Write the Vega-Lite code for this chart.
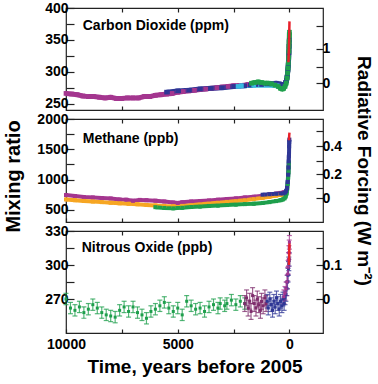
{
  "$schema": "https://vega.github.io/schema/vega-lite/v6.json",
  "padding": {"left": 3, "top": 0, "right": 0, "bottom": 0},
  "spacing": 9,
  "bounds": "flush",
  "config": {
    "font": "Liberation Sans",
    "view": {"stroke": "#222", "strokeWidth": 1.2},
    "axis": {"labelFont": "Liberation Sans", "labelFontSize": 14, "labelFontWeight": "bold", "labelColor": "#000", "tickColor": "#222", "tickWidth": 1.2, "domain": false, "grid": false, "titleFont": "Liberation Sans", "titleFontSize": 19, "titleFontWeight": "bold", "titleColor": "#000", "labelFlush": false, "labelOverlap": false}
  },
  "datasets": {
    "co2": [
      {"s":"purple","t":10000,"v":266,"e":3},{"s":"purple","t":9750,"v":265,"e":3},{"s":"purple","t":9500,"v":264,"e":3},{"s":"purple","t":9250,"v":262,"e":3},{"s":"purple","t":9000,"v":261,"e":3},{"s":"purple","t":8750,"v":261,"e":3},{"s":"purple","t":8500,"v":260,"e":3},{"s":"purple","t":8250,"v":259,"e":3},{"s":"purple","t":8000,"v":260,"e":3},{"s":"purple","t":7750,"v":258,"e":3},{"s":"purple","t":7500,"v":258,"e":3},{"s":"purple","t":7250,"v":259,"e":3},{"s":"purple","t":7000,"v":259,"e":3},{"s":"purple","t":6750,"v":259,"e":3},{"s":"purple","t":6500,"v":261,"e":3},{"s":"purple","t":6250,"v":261,"e":3},{"s":"purple","t":6000,"v":263,"e":3},{"s":"purple","t":5750,"v":264,"e":3},{"s":"purple","t":5500,"v":265,"e":3},{"s":"purple","t":5250,"v":266,"e":3},{"s":"purple","t":5000,"v":268,"e":3},{"s":"purple","t":4750,"v":269,"e":3},{"s":"purple","t":4500,"v":270,"e":3},{"s":"purple","t":4250,"v":271,"e":3},{"s":"purple","t":4000,"v":272,"e":3},{"s":"purple","t":3750,"v":273,"e":3},{"s":"purple","t":3500,"v":274,"e":3},{"s":"purple","t":3250,"v":275,"e":3},{"s":"purple","t":3000,"v":276,"e":3},{"s":"purple","t":2750,"v":277,"e":3},{"s":"purple","t":2500,"v":278,"e":3},{"s":"purple","t":2250,"v":278,"e":3},{"s":"purple","t":2000,"v":279,"e":3},{"s":"purple","t":1850,"v":280,"e":3},
      {"s":"blue","t":5500,"v":268,"e":2},{"s":"blue","t":5000,"v":270,"e":2},{"s":"blue","t":4500,"v":271,"e":2},{"s":"blue","t":4000,"v":273,"e":2},{"s":"blue","t":3500,"v":274,"e":2},{"s":"blue","t":3000,"v":275,"e":2},{"s":"blue","t":2500,"v":277,"e":2},{"s":"blue","t":2000,"v":278,"e":2},{"s":"blue","t":1750,"v":279,"e":2},{"s":"blue","t":1500,"v":280,"e":2},{"s":"blue","t":1250,"v":280,"e":2},{"s":"blue","t":1000,"v":281,"e":2},{"s":"blue","t":800,"v":281,"e":2},{"s":"blue","t":600,"v":282,"e":2},{"s":"blue","t":450,"v":281,"e":2},{"s":"blue","t":350,"v":280,"e":2},{"s":"blue","t":280,"v":279,"e":2},{"s":"blue","t":230,"v":280,"e":2},{"s":"blue","t":180,"v":283,"e":2},{"s":"blue","t":140,"v":286,"e":2},{"s":"blue","t":110,"v":291,"e":2},{"s":"blue","t":90,"v":296,"e":2},{"s":"blue","t":70,"v":303,"e":2},{"s":"blue","t":55,"v":310,"e":2},{"s":"blue","t":45,"v":316,"e":2},{"s":"blue","t":35,"v":322,"e":2},{"s":"blue","t":25,"v":330,"e":2},{"s":"blue","t":15,"v":340,"e":2},{"s":"blue","t":8,"v":350,"e":2},
      {"s":"cyan","t":2300,"v":277,"e":2},{"s":"cyan","t":2150,"v":278,"e":2},{"s":"cyan","t":1600,"v":279,"e":2},{"s":"cyan","t":700,"v":279,"e":2},{"s":"cyan","t":550,"v":278,"e":2},
      {"s":"green","t":1700,"v":282,"e":3},{"s":"green","t":1550,"v":283,"e":3},{"s":"green","t":1400,"v":284,"e":3},{"s":"green","t":1250,"v":283,"e":3},{"s":"green","t":1100,"v":282,"e":3},{"s":"green","t":950,"v":282,"e":3},{"s":"green","t":800,"v":281,"e":3},{"s":"green","t":650,"v":279,"e":3},{"s":"green","t":500,"v":277,"e":3},{"s":"green","t":400,"v":274,"e":3},{"s":"green","t":320,"v":273,"e":3},{"s":"green","t":260,"v":274,"e":3},{"s":"green","t":200,"v":277,"e":3},{"s":"green","t":150,"v":282,"e":3},{"s":"green","t":110,"v":290,"e":4},{"s":"green","t":85,"v":298,"e":4},{"s":"green","t":65,"v":306,"e":4},{"s":"green","t":50,"v":314,"e":4},{"s":"green","t":38,"v":322,"e":4},{"s":"green","t":28,"v":332,"e":4},{"s":"green","t":20,"v":340,"e":4},{"s":"green","t":12,"v":348,"e":4},{"s":"green","t":6,"v":356,"e":4},{"s":"green","t":2,"v":362,"e":4},
      {"s":"red","t":47,"v":315,"e":0},{"s":"red","t":40,"v":320,"e":0},{"s":"red","t":30,"v":331,"e":0},{"s":"red","t":20,"v":346,"e":0},{"s":"red","t":10,"v":361,"e":0},{"s":"red","t":0,"v":379,"e":0}
    ],
    "ch4": [
      {"s":"purple","t":10000,"v":745,"e":25},{"s":"purple","t":9600,"v":728,"e":25},{"s":"purple","t":9200,"v":712,"e":25},{"s":"purple","t":8800,"v":705,"e":25},{"s":"purple","t":8400,"v":695,"e":25},{"s":"purple","t":8000,"v":688,"e":25},{"s":"purple","t":7600,"v":672,"e":25},{"s":"purple","t":7300,"v":668,"e":25},{"s":"purple","t":7000,"v":650,"e":25},{"s":"purple","t":6700,"v":665,"e":25},{"s":"purple","t":6400,"v":660,"e":25},{"s":"purple","t":6000,"v":652,"e":25},{"s":"purple","t":5600,"v":638,"e":25},{"s":"purple","t":5200,"v":622,"e":25},{"s":"purple","t":5000,"v":615,"e":25},{"s":"purple","t":4800,"v":625,"e":25},{"s":"purple","t":4400,"v":638,"e":25},{"s":"purple","t":4000,"v":645,"e":25},{"s":"purple","t":3600,"v":655,"e":25},{"s":"purple","t":3200,"v":668,"e":25},{"s":"purple","t":2800,"v":678,"e":25},{"s":"purple","t":2400,"v":690,"e":25},{"s":"purple","t":2000,"v":705,"e":25},{"s":"purple","t":1600,"v":718,"e":25},{"s":"purple","t":1200,"v":735,"e":25},{"s":"purple","t":900,"v":752,"e":25},{"s":"purple","t":600,"v":768,"e":25},{"s":"purple","t":400,"v":780,"e":25},{"s":"purple","t":250,"v":790,"e":25},
      {"s":"orange","t":10000,"v":672,"e":25},{"s":"orange","t":9600,"v":660,"e":25},{"s":"orange","t":9200,"v":648,"e":25},{"s":"orange","t":8800,"v":638,"e":25},{"s":"orange","t":8400,"v":628,"e":25},{"s":"orange","t":8000,"v":618,"e":25},{"s":"orange","t":7600,"v":608,"e":25},{"s":"orange","t":7200,"v":600,"e":25},{"s":"orange","t":6800,"v":592,"e":25},{"s":"orange","t":6400,"v":582,"e":25},{"s":"orange","t":6000,"v":574,"e":25},{"s":"orange","t":5600,"v":566,"e":25},{"s":"orange","t":5200,"v":562,"e":25},{"s":"orange","t":4800,"v":566,"e":25},{"s":"orange","t":4400,"v":578,"e":25},{"s":"orange","t":4000,"v":592,"e":25},{"s":"orange","t":3600,"v":605,"e":25},{"s":"orange","t":3200,"v":618,"e":25},{"s":"orange","t":2800,"v":632,"e":25},{"s":"orange","t":2400,"v":645,"e":25},{"s":"orange","t":2000,"v":660,"e":25},{"s":"orange","t":1600,"v":678,"e":25},{"s":"orange","t":1200,"v":698,"e":25},{"s":"orange","t":900,"v":715,"e":25},{"s":"orange","t":600,"v":735,"e":25},{"s":"orange","t":400,"v":748,"e":25},{"s":"orange","t":300,"v":752,"e":25},
      {"s":"green","t":6000,"v":545,"e":30},{"s":"green","t":5600,"v":532,"e":30},{"s":"green","t":5200,"v":526,"e":30},{"s":"green","t":4800,"v":535,"e":30},{"s":"green","t":4400,"v":548,"e":30},{"s":"green","t":4000,"v":556,"e":30},{"s":"green","t":3600,"v":565,"e":30},{"s":"green","t":3200,"v":572,"e":30},{"s":"green","t":2800,"v":580,"e":30},{"s":"green","t":2400,"v":588,"e":30},{"s":"green","t":2000,"v":595,"e":30},{"s":"green","t":1600,"v":602,"e":30},{"s":"green","t":1200,"v":615,"e":30},{"s":"green","t":900,"v":628,"e":30},{"s":"green","t":600,"v":645,"e":30},{"s":"green","t":400,"v":660,"e":30},{"s":"green","t":300,"v":672,"e":30},{"s":"green","t":220,"v":690,"e":30},{"s":"green","t":170,"v":720,"e":30},{"s":"green","t":130,"v":770,"e":30},{"s":"green","t":100,"v":850,"e":30},{"s":"green","t":80,"v":930,"e":30},{"s":"green","t":60,"v":1030,"e":30},{"s":"green","t":45,"v":1120,"e":30},{"s":"green","t":35,"v":1200,"e":30},{"s":"green","t":25,"v":1280,"e":30},
      {"s":"blue","t":1200,"v":750,"e":20},{"s":"blue","t":900,"v":758,"e":20},{"s":"blue","t":600,"v":765,"e":20},{"s":"blue","t":400,"v":770,"e":20},{"s":"blue","t":280,"v":772,"e":20},{"s":"blue","t":200,"v":785,"e":20},{"s":"blue","t":150,"v":810,"e":20},{"s":"blue","t":110,"v":860,"e":20},{"s":"blue","t":80,"v":960,"e":20},{"s":"blue","t":60,"v":1080,"e":20},{"s":"blue","t":45,"v":1200,"e":20},{"s":"blue","t":35,"v":1300,"e":20},{"s":"blue","t":28,"v":1380,"e":20},{"s":"blue","t":20,"v":1420,"e":20},{"s":"blue","t":15,"v":1550,"e":20},{"s":"blue","t":10,"v":1620,"e":20},{"s":"blue","t":6,"v":1660,"e":20},
      {"s":"red","t":21,"v":1650,"e":0},{"s":"red","t":15,"v":1700,"e":0},{"s":"red","t":10,"v":1740,"e":0},{"s":"red","t":5,"v":1755,"e":0},{"s":"red","t":0,"v":1775,"e":0}
    ],
    "n2o": [
      {"s":"green","t":10000,"v":270,"e":5},{"s":"green","t":9800,"v":262,"e":5},{"s":"green","t":9600,"v":260,"e":5},{"s":"green","t":9400,"v":263,"e":5},{"s":"green","t":9200,"v":258,"e":5},{"s":"green","t":9000,"v":261,"e":5},{"s":"green","t":8800,"v":265,"e":5},{"s":"green","t":8600,"v":262,"e":5},{"s":"green","t":8400,"v":258,"e":5},{"s":"green","t":8200,"v":256,"e":5},{"s":"green","t":8000,"v":255,"e":5},{"s":"green","t":7800,"v":254,"e":5},{"s":"green","t":7600,"v":260,"e":5},{"s":"green","t":7400,"v":263,"e":5},{"s":"green","t":7200,"v":259,"e":5},{"s":"green","t":7000,"v":263,"e":5},{"s":"green","t":6800,"v":258,"e":5},{"s":"green","t":6600,"v":256,"e":5},{"s":"green","t":6400,"v":253,"e":5},{"s":"green","t":6200,"v":259,"e":5},{"s":"green","t":6000,"v":261,"e":5},{"s":"green","t":5800,"v":264,"e":5},{"s":"green","t":5600,"v":267,"e":5},{"s":"green","t":5400,"v":262,"e":5},{"s":"green","t":5200,"v":259,"e":5},{"s":"green","t":5000,"v":262,"e":5},{"s":"green","t":4800,"v":256,"e":5},{"s":"green","t":4600,"v":268,"e":5},{"s":"green","t":4400,"v":264,"e":5},{"s":"green","t":4200,"v":261,"e":5},{"s":"green","t":4000,"v":262,"e":5},{"s":"green","t":3800,"v":259,"e":5},{"s":"green","t":3600,"v":263,"e":5},{"s":"green","t":3400,"v":265,"e":5},{"s":"green","t":3200,"v":262,"e":5},{"s":"green","t":3100,"v":266,"e":5},{"s":"green","t":2900,"v":264,"e":5},{"s":"green","t":2800,"v":266,"e":5},{"s":"green","t":2600,"v":269,"e":5},{"s":"green","t":2400,"v":265,"e":5},{"s":"green","t":2200,"v":268,"e":5},{"s":"green","t":2000,"v":266,"e":5},
      {"s":"plum","t":2000,"v":266,"e":7},{"s":"plum","t":1920,"v":271,"e":7},{"s":"plum","t":1850,"v":262,"e":7},{"s":"plum","t":1780,"v":268,"e":7},{"s":"plum","t":1720,"v":259,"e":7},{"s":"plum","t":1650,"v":273,"e":7},{"s":"plum","t":1580,"v":266,"e":7},{"s":"plum","t":1500,"v":262,"e":7},{"s":"plum","t":1440,"v":270,"e":7},{"s":"plum","t":1380,"v":265,"e":7},{"s":"plum","t":1300,"v":260,"e":7},{"s":"plum","t":1250,"v":268,"e":7},{"s":"plum","t":1180,"v":264,"e":7},{"s":"plum","t":1100,"v":271,"e":7},{"s":"plum","t":1050,"v":266,"e":7},
      {"s":"blue","t":1000,"v":268,"e":6},{"s":"blue","t":950,"v":262,"e":6},{"s":"blue","t":880,"v":270,"e":6},{"s":"blue","t":820,"v":265,"e":6},{"s":"blue","t":760,"v":260,"e":6},{"s":"blue","t":700,"v":268,"e":6},{"s":"blue","t":640,"v":263,"e":6},{"s":"blue","t":580,"v":271,"e":6},{"s":"blue","t":520,"v":266,"e":6},{"s":"blue","t":460,"v":261,"e":6},{"s":"blue","t":400,"v":268,"e":6},{"s":"blue","t":340,"v":264,"e":6},{"s":"blue","t":290,"v":270,"e":6},{"s":"blue","t":240,"v":266,"e":6},{"s":"blue","t":200,"v":271,"e":6},{"s":"blue","t":160,"v":274,"e":6},{"s":"blue","t":120,"v":279,"e":6},{"s":"blue","t":90,"v":285,"e":6},{"s":"blue","t":65,"v":291,"e":6},{"s":"blue","t":45,"v":297,"e":6},{"s":"blue","t":30,"v":301,"e":6},{"s":"blue","t":15,"v":305,"e":6},
      {"s":"purple","t":250,"v":272,"e":6},{"s":"purple","t":200,"v":275,"e":6},{"s":"purple","t":150,"v":279,"e":6},{"s":"purple","t":110,"v":285,"e":6},{"s":"purple","t":80,"v":292,"e":6},{"s":"purple","t":60,"v":298,"e":6},{"s":"purple","t":40,"v":305,"e":6},{"s":"purple","t":25,"v":311,"e":6},{"s":"purple","t":12,"v":316,"e":6},{"s":"purple","t":4,"v":320,"e":6},
      {"s":"red","t":27,"v":300,"e":0},{"s":"red","t":20,"v":304,"e":0},{"s":"red","t":10,"v":311,"e":0},{"s":"red","t":0,"v":319,"e":0}
    ]
  },
  "vconcat": [
    {
      "width": 257, "height": 102,
      "data": {"name": "co2"},
      "layer": [
        {"transform": [{"filter": "datum.s !== 'red'"}],
         "mark": {"type": "line", "strokeWidth": 5},
         "encoding": {"x": {"field": "t", "type": "quantitative", "scale": {"domain": [-1500, 10000], "reverse": true, "nice": false, "zero": false}, "axis": null},
           "y": {"field": "v", "type": "quantitative", "scale": {"domain": [240, 400], "nice": false, "zero": false}, "axis": null},
           "color": {"field": "s", "type": "nominal", "scale": {"domain": ["purple","blue","green","cyan","orange","red","plum"], "range": ["#a4368f","#2e3695","#1e9f4c","#38b9e0","#f6a623","#e8202a","#7e2c6c"]}, "legend": null}}},
        {"transform": [{"filter": "datum.s !== 'red'"}],
         "mark": {"type": "errorbar", "ticks": false, "thickness": 2},
         "encoding": {"x": {"field": "t", "type": "quantitative", "scale": {"domain": [-1500, 10000], "reverse": true, "nice": false, "zero": false}, "axis": null},
           "y": {"field": "v", "type": "quantitative", "scale": {"domain": [240, 400], "nice": false, "zero": false}, "axis": null},
           "yError": {"field": "e"},
           "color": {"field": "s", "type": "nominal", "legend": null}}},
        {"transform": [{"filter": "datum.s !== 'red'"}],
         "mark": {"type": "square", "size": 22, "opacity": 1},
         "encoding": {"x": {"field": "t", "type": "quantitative", "scale": {"domain": [-1500, 10000], "reverse": true, "nice": false, "zero": false}, "axis": null},
           "y": {"field": "v", "type": "quantitative", "scale": {"domain": [240, 400], "nice": false, "zero": false}, "axis": null},
           "color": {"field": "s", "type": "nominal", "legend": null}}},
        {"transform": [{"filter": "datum.s === 'red'"}],
         "mark": {"type": "line", "color": "#e8202a", "strokeWidth": 2.5},
         "encoding": {"x": {"field": "t", "type": "quantitative", "scale": {"domain": [-1500, 10000], "reverse": true, "nice": false, "zero": false}, "axis": null},
           "y": {"field": "v", "type": "quantitative", "scale": {"domain": [240, 400], "nice": false, "zero": false}, "axis": null}}},
        {"data": {"values": [{"label": "Carbon Dioxide (ppm)"}]},
         "mark": {"type": "text", "align": "left", "baseline": "middle", "fontSize": 14, "fontWeight": "bold", "font": "Liberation Sans", "color": "#000"},
         "encoding": {"x": {"datum": 9250, "type": "quantitative", "scale": {"domain": [-1500, 10000], "reverse": true, "nice": false, "zero": false}, "axis": null},
           "y": {"datum": 372, "type": "quantitative", "scale": {"domain": [240, 400], "nice": false, "zero": false}, "axis": null},
           "text": {"field": "label"}}},
        {"data": {"values": [{}]},
         "mark": {"type": "point", "opacity": 0},
         "encoding": {"x": {"datum": 0, "type": "quantitative", "scale": {"domain": [-1500, 10000], "reverse": true, "nice": false, "zero": false}, "axis": {"orient": "bottom", "values": [0, 2500, 5000, 7500, 10000], "labels": false, "tickSize": -4, "title": null}},
           "y": {"datum": 300, "type": "quantitative", "scale": {"domain": [240, 400], "nice": false, "zero": false}, "axis": {"orient": "left", "values": [250, 275, 300, 325, 350, 375, 400], "labelExpr": "datum.value % 50 === 0 ? datum.label : ''", "tickSize": -8, "labelPadding": 6, "title": null}}}},
        {"data": {"values": [{}]},
         "mark": {"type": "point", "opacity": 0},
         "encoding": {"x": {"datum": 0, "type": "quantitative", "scale": {"domain": [-1500, 10000], "reverse": true, "nice": false, "zero": false}, "axis": {"orient": "top", "values": [0, 2500, 5000, 7500, 10000], "labels": false, "tickSize": -4, "title": null}},
           "y": {"datum": 300, "type": "quantitative", "scale": {"domain": [240, 400], "nice": false, "zero": false}, "axis": {"orient": "right", "values": [282, 308, 336, 371], "labelExpr": "datum.value === 282 ? '0' : datum.value === 336 ? '1' : ''", "tickSize": -7, "labelPadding": 6, "title": null}}}}
      ],
      "resolve": {"axis": {"x": "independent", "y": "independent"}}
    },
    {
      "width": 257, "height": 103,
      "data": {"name": "ch4"},
      "layer": [
        {"transform": [{"filter": "datum.s !== 'red'"}],
         "mark": {"type": "line", "strokeWidth": 4},
         "encoding": {"x": {"field": "t", "type": "quantitative", "scale": {"domain": [-1500, 10000], "reverse": true, "nice": false, "zero": false}, "axis": null},
           "y": {"field": "v", "type": "quantitative", "scale": {"domain": [300, 2000], "nice": false, "zero": false}, "axis": null},
           "color": {"field": "s", "type": "nominal", "legend": null}}},
        {"transform": [{"filter": "datum.s !== 'red'"}],
         "mark": {"type": "errorbar", "ticks": false, "thickness": 2},
         "encoding": {"x": {"field": "t", "type": "quantitative", "scale": {"domain": [-1500, 10000], "reverse": true, "nice": false, "zero": false}, "axis": null},
           "y": {"field": "v", "type": "quantitative", "scale": {"domain": [300, 2000], "nice": false, "zero": false}, "axis": null},
           "yError": {"field": "e"},
           "color": {"field": "s", "type": "nominal", "legend": null}}},
        {"transform": [{"filter": "datum.s !== 'red'"}],
         "mark": {"type": "square", "size": 16, "opacity": 1},
         "encoding": {"x": {"field": "t", "type": "quantitative", "scale": {"domain": [-1500, 10000], "reverse": true, "nice": false, "zero": false}, "axis": null},
           "y": {"field": "v", "type": "quantitative", "scale": {"domain": [300, 2000], "nice": false, "zero": false}, "axis": null},
           "color": {"field": "s", "type": "nominal", "legend": null}}},
        {"transform": [{"filter": "datum.s === 'red'"}],
         "mark": {"type": "line", "color": "#e8202a", "strokeWidth": 2.5},
         "encoding": {"x": {"field": "t", "type": "quantitative", "scale": {"domain": [-1500, 10000], "reverse": true, "nice": false, "zero": false}, "axis": null},
           "y": {"field": "v", "type": "quantitative", "scale": {"domain": [300, 2000], "nice": false, "zero": false}, "axis": null}}},
        {"data": {"values": [{"label": "Methane (ppb)"}]},
         "mark": {"type": "text", "align": "left", "baseline": "middle", "fontSize": 14, "fontWeight": "bold", "font": "Liberation Sans", "color": "#000"},
         "encoding": {"x": {"datum": 9250, "type": "quantitative", "scale": {"domain": [-1500, 10000], "reverse": true, "nice": false, "zero": false}, "axis": null},
           "y": {"datum": 1675, "type": "quantitative", "scale": {"domain": [300, 2000], "nice": false, "zero": false}, "axis": null},
           "text": {"field": "label"}}},
        {"data": {"values": [{}]},
         "mark": {"type": "point", "opacity": 0},
         "encoding": {"x": {"datum": 0, "type": "quantitative", "scale": {"domain": [-1500, 10000], "reverse": true, "nice": false, "zero": false}, "axis": {"orient": "bottom", "values": [0, 2500, 5000, 7500, 10000], "labels": false, "tickSize": -4, "title": null}},
           "y": {"datum": 1000, "type": "quantitative", "scale": {"domain": [300, 2000], "nice": false, "zero": false}, "axis": {"orient": "left", "values": [500, 750, 1000, 1250, 1500, 1750, 2000], "labelExpr": "datum.value % 500 === 0 ? datum.value : ''", "tickSize": -8, "labelPadding": 6, "title": "Mixing ratio", "titleFontSize": 20, "titlePadding": 13, "titleY": 57}}}},
        {"data": {"values": [{}]},
         "mark": {"type": "point", "opacity": 0},
         "encoding": {"x": {"datum": 0, "type": "quantitative", "scale": {"domain": [-1500, 10000], "reverse": true, "nice": false, "zero": false}, "axis": {"orient": "top", "values": [0, 2500, 5000, 7500, 10000], "labels": false, "tickSize": -4, "title": null}},
           "y": {"datum": 1000, "type": "quantitative", "scale": {"domain": [300, 2000], "nice": false, "zero": false}, "axis": {"orient": "right", "values": [693, 858, 1088, 1303, 1550, 1797], "labelExpr": "datum.value === 693 ? '0' : datum.value === 1088 ? '0.2' : datum.value === 1550 ? '0.4' : ''", "tickSize": -7, "labelPadding": 6, "title": "Radiative Forcing (W m⁻²)", "titlePadding": 12}}}}
      ],
      "resolve": {"axis": {"x": "independent", "y": "independent"}}
    },
    {
      "width": 257, "height": 102,
      "data": {"name": "n2o"},
      "layer": [
        {"transform": [{"filter": "datum.s !== 'red'"}],
         "mark": {"type": "errorbar", "ticks": {"size": 5}, "thickness": 1.2, "opacity": 0.75},
         "encoding": {"x": {"field": "t", "type": "quantitative", "scale": {"domain": [-1500, 10000], "reverse": true, "nice": false, "zero": false}, "axis": null},
           "y": {"field": "v", "type": "quantitative", "scale": {"domain": [240, 330], "nice": false, "zero": false}, "axis": null},
           "yError": {"field": "e"},
           "color": {"field": "s", "type": "nominal", "legend": null}}},
        {"transform": [{"filter": "datum.s !== 'red'"}],
         "mark": {"type": "square", "size": 9, "opacity": 1},
         "encoding": {"x": {"field": "t", "type": "quantitative", "scale": {"domain": [-1500, 10000], "reverse": true, "nice": false, "zero": false}, "axis": null},
           "y": {"field": "v", "type": "quantitative", "scale": {"domain": [240, 330], "nice": false, "zero": false}, "axis": null},
           "color": {"field": "s", "type": "nominal", "legend": null}}},
        {"transform": [{"filter": "datum.s === 'red'"}],
         "mark": {"type": "line", "color": "#e8202a", "strokeWidth": 2.5},
         "encoding": {"x": {"field": "t", "type": "quantitative", "scale": {"domain": [-1500, 10000], "reverse": true, "nice": false, "zero": false}, "axis": null},
           "y": {"field": "v", "type": "quantitative", "scale": {"domain": [240, 330], "nice": false, "zero": false}, "axis": null}}},
        {"data": {"values": [{"label": "Nitrous Oxide (ppb)"}]},
         "mark": {"type": "text", "align": "left", "baseline": "middle", "fontSize": 14, "fontWeight": "bold", "font": "Liberation Sans", "color": "#000"},
         "encoding": {"x": {"datum": 9300, "type": "quantitative", "scale": {"domain": [-1500, 10000], "reverse": true, "nice": false, "zero": false}, "axis": null},
           "y": {"datum": 315, "type": "quantitative", "scale": {"domain": [240, 330], "nice": false, "zero": false}, "axis": null},
           "text": {"field": "label"}}},
        {"data": {"values": [{}]},
         "mark": {"type": "point", "opacity": 0},
         "encoding": {"x": {"datum": 0, "type": "quantitative", "scale": {"domain": [-1500, 10000], "reverse": true, "nice": false, "zero": false}, "axis": {"orient": "bottom", "values": [0, 2500, 5000, 7500, 10000], "format": "d", "labelExpr": "datum.value % 5000 === 0 ? datum.label : ''", "tickSize": -4, "labelPadding": 8, "title": "Time, years before 2005", "titlePadding": 6}},
           "y": {"datum": 300, "type": "quantitative", "scale": {"domain": [240, 330], "nice": false, "zero": false}, "axis": {"orient": "left", "values": [270, 285, 300, 315, 330], "labelExpr": "datum.value % 30 === 0 ? datum.label : ''", "tickSize": -8, "labelPadding": 6, "title": null}}}},
        {"data": {"values": [{}]},
         "mark": {"type": "point", "opacity": 0},
         "encoding": {"x": {"datum": 0, "type": "quantitative", "scale": {"domain": [-1500, 10000], "reverse": true, "nice": false, "zero": false}, "axis": {"orient": "top", "values": [0, 2500, 5000, 7500, 10000], "labels": false, "tickSize": -4, "title": null}},
           "y": {"datum": 300, "type": "quantitative", "scale": {"domain": [240, 330], "nice": false, "zero": false}, "axis": {"orient": "right", "values": [270, 285, 300, 315], "labelExpr": "datum.value === 270 ? '0' : datum.value === 300 ? '0.1' : ''", "tickSize": -7, "labelPadding": 6, "title": null}}}}
      ],
      "resolve": {"axis": {"x": "independent", "y": "independent"}}
    }
  ]
}
